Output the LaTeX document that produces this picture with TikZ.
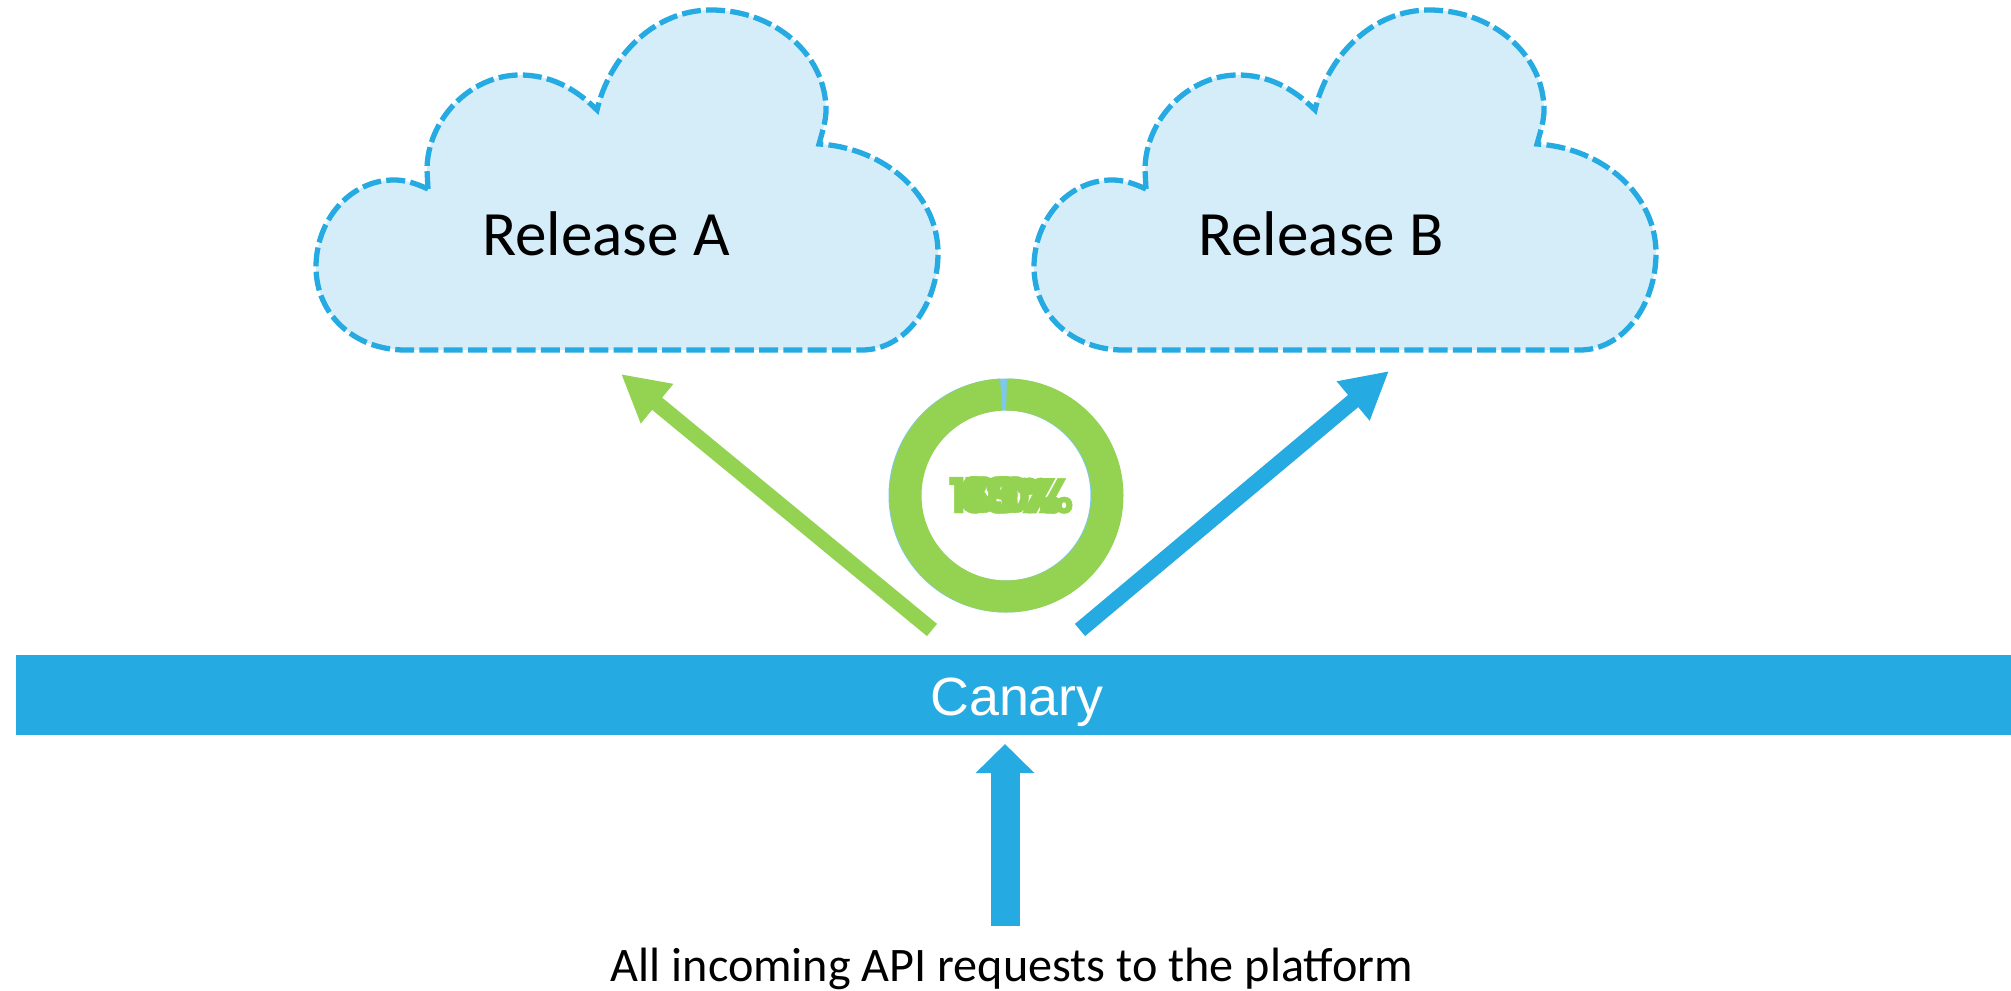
\documentclass[tikz,border=0pt]{standalone}
\usepackage{fontspec}
\setmainfont{Carlito}
\newfontfamily\canaryfont{Liberation Sans}
\newfontfamily\ringfont[FakeBold=0.8]{Poppins Bold}
\usetikzlibrary{arrows.meta}
\definecolor{skyblue}{HTML}{25AAE2}
\definecolor{paleblue}{HTML}{D4EDF9}
\definecolor{sliverblue}{HTML}{7CC8EE}
\definecolor{leafgreen}{HTML}{94D351}
\tikzset{
  font=\fontsize{13.7pt}{16pt}\selectfont,
  release/.style = {
    anchor=base,
    inner sep=0pt,
    font=\fontsize{17.95pt}{20pt}\selectfont
  },
  pct/.style = {
    anchor=base,
    inner sep=0pt,
    text=leafgreen,
    font=\ringfont\addfontfeature{FakeBold=0.8}\fontsize{14pt}{16pt}\selectfont
  },
  bigarrow/.style = {
    line width=4.5pt,
    -{Triangle[length=13.3pt,width=13.6pt]}
  },
  relcloud/.pic = {
    \draw[skyblue, fill=paleblue, line width=1.5pt, dash pattern=on 5.4pt off 1.5pt]
      (428,189) .. controls (415,183) and (405,180) .. (394,180)
      .. controls (350,180) and (316,220) .. (316,267)
      .. controls (316,315) and (355,350) .. (405,350)
      -- (862,350)
      .. controls (905,350) and (938,305) .. (938,253)
      .. controls (938,195) and (885,148) .. (819,144)
      .. controls (823,130) and (826,120) .. (826,110)
      .. controls (826,55) and (775,10) .. (711,10)
      .. controls (655,10) and (610,55) .. (597,110)
      .. controls (575,88) and (550,75) .. (520,75)
      .. controls (470,75) and (427,120) .. (427,170)
      -- cycle;
  }
}
\begin{document}
\begin{tikzpicture}[x=0.01cm,y=-0.01cm]

      \useasboundingbox (0,0) rectangle (2011,991);

      \pic at (0,0) {relcloud};
      \pic at (718,0) {relcloud};
      \node[release] (relA) at (606,256) {Release A};
      \node[release] (relB) at (1321,256) {Release B};

      % ring with the stacked percentages
      \coordinate (ring) at (1006.5,495.5);
      \draw[sliverblue, line width=9.1pt] (1005.5,495.5) circle (101);
      \draw[leafgreen, line width=9.1pt] (ring) ++(-90:101) arc[start angle=-90, end angle=267, radius=101];
      \node[pct] (pctA) at (1011,513) {100\%};
      \node[pct] (pctB) at (1011,513) {18\%};
      \node[pct] (pctC) at (1011,513) {63\%};
      \node[pct] (pctD) at (1011,513) {39\%};

      \fill[skyblue] (16,655) rectangle (2011,735);
      \node[anchor=base, inner sep=0pt, text=white, font=\canaryfont\fontsize{15.3pt}{18pt}\selectfont] (canary) at (1017,715) {Canary};

      \coordinate (tailA) at (932,630);
      \coordinate (tipA) at (621,374);
      \coordinate (tailB) at (1080,630);
      \coordinate (tipB) at (1389,371);
      \draw[bigarrow, leafgreen] (tailA) -- (tipA);
      \draw[bigarrow, skyblue] (tailB) -- (tipB);

      \node[anchor=base, inner sep=0pt] (reqs) at (1012,981) {All incoming API requests to the platform};
      \coordinate (reqtail) at (1005,926);
      \coordinate (reqtip) at (1005,744);
      \draw[skyblue, line width=8.25pt, -{Triangle[length=8.25pt,width=16.2pt]}] (reqtail) -- (reqtip);
    \end{tikzpicture}
\end{document}
